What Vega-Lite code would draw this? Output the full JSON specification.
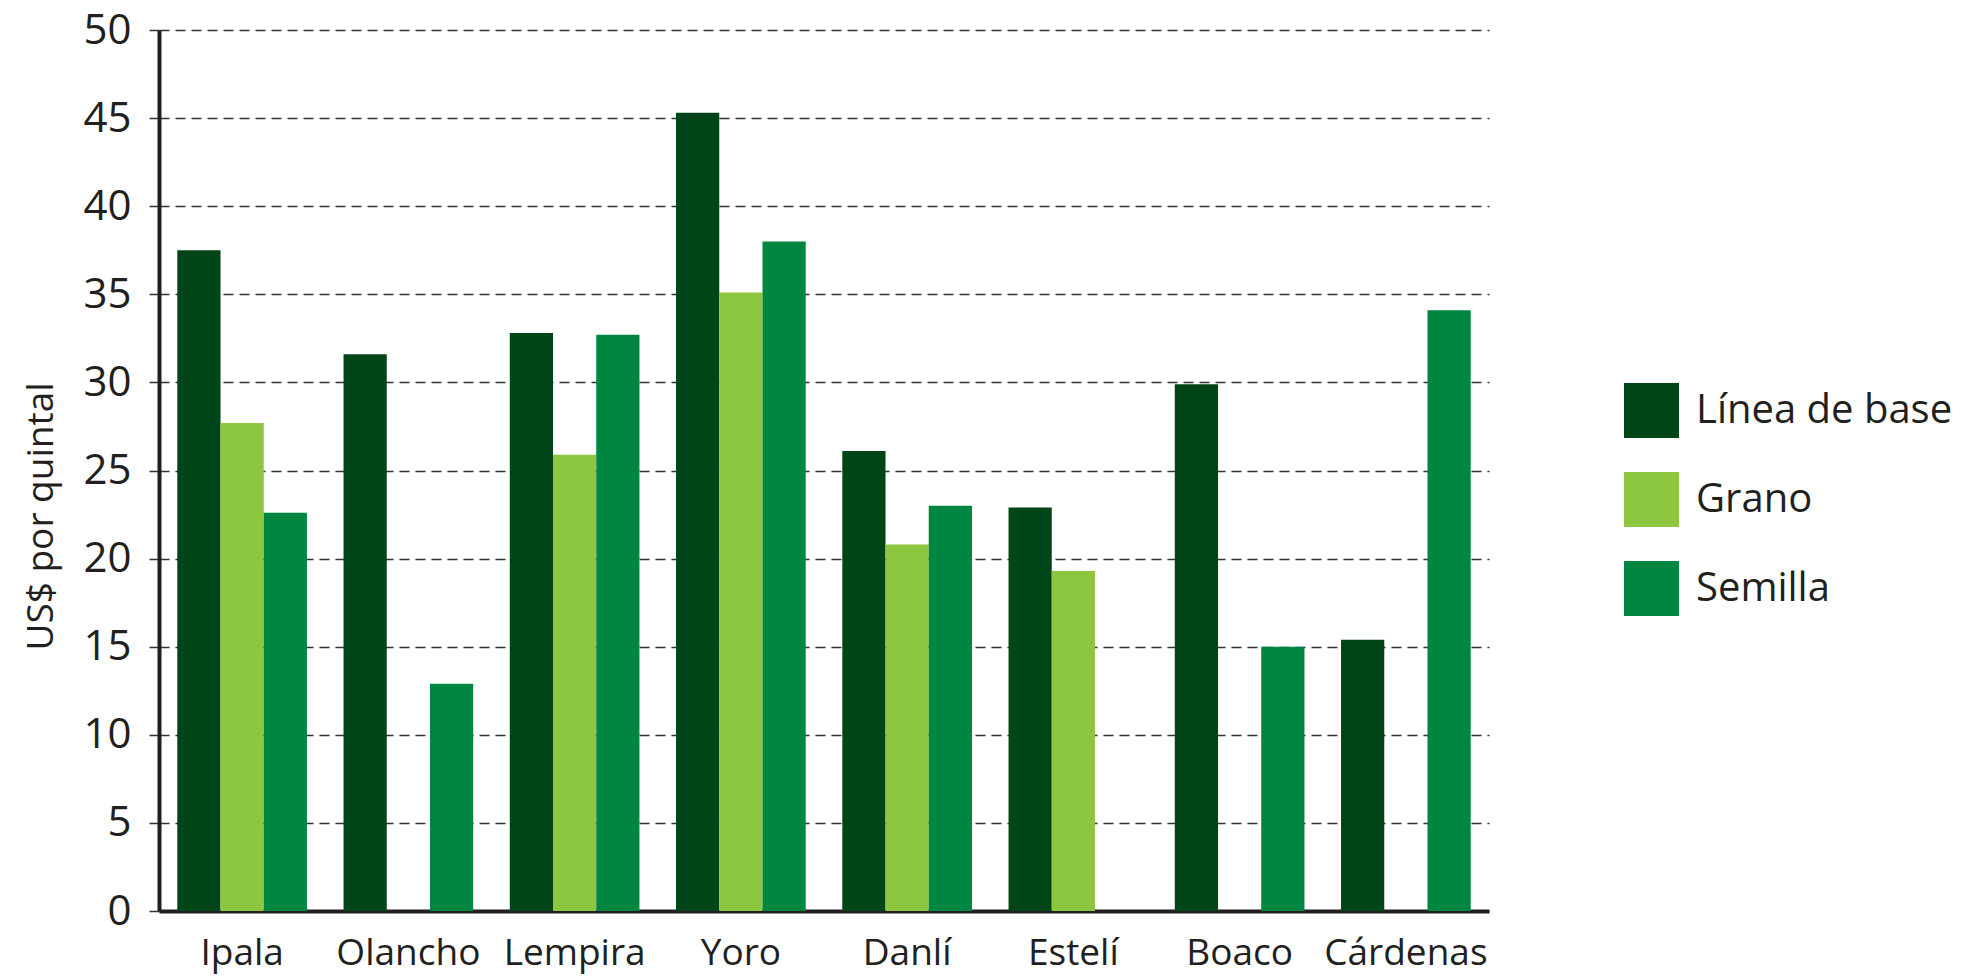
{
  "$schema": "https://vega.github.io/schema/vega-lite/v6.json",
  "autosize": "none",
  "width": 1330,
  "height": 881,
  "padding": {"left": 159, "top": 30, "right": 484, "bottom": 65},
  "background": "white",
  "config": {
    "view": {"stroke": null},
    "font": "Open Sans"
  },
  "data": {
    "values": [
      {"lugar": "Ipala", "serie": "Línea de base", "valor": 37.5},
      {"lugar": "Ipala", "serie": "Grano", "valor": 27.7},
      {"lugar": "Ipala", "serie": "Semilla", "valor": 22.6},
      {"lugar": "Olancho", "serie": "Línea de base", "valor": 31.6},
      {"lugar": "Olancho", "serie": "Semilla", "valor": 12.9},
      {"lugar": "Lempira", "serie": "Línea de base", "valor": 32.8},
      {"lugar": "Lempira", "serie": "Grano", "valor": 25.9},
      {"lugar": "Lempira", "serie": "Semilla", "valor": 32.7},
      {"lugar": "Yoro", "serie": "Línea de base", "valor": 45.3},
      {"lugar": "Yoro", "serie": "Grano", "valor": 35.1},
      {"lugar": "Yoro", "serie": "Semilla", "valor": 38.0},
      {"lugar": "Danlí", "serie": "Línea de base", "valor": 26.1},
      {"lugar": "Danlí", "serie": "Grano", "valor": 20.8},
      {"lugar": "Danlí", "serie": "Semilla", "valor": 23.0},
      {"lugar": "Estelí", "serie": "Línea de base", "valor": 22.9},
      {"lugar": "Estelí", "serie": "Grano", "valor": 19.3},
      {"lugar": "Boaco", "serie": "Línea de base", "valor": 29.9},
      {"lugar": "Boaco", "serie": "Semilla", "valor": 15.0},
      {"lugar": "Cárdenas", "serie": "Línea de base", "valor": 15.4},
      {"lugar": "Cárdenas", "serie": "Semilla", "valor": 34.1}
    ]
  },
  "mark": {"type": "bar"},
  "encoding": {
    "x": {
      "field": "lugar",
      "type": "nominal",
      "sort": ["Ipala", "Olancho", "Lempira", "Yoro", "Danlí", "Estelí", "Boaco", "Cárdenas"],
      "scale": {"paddingInner": 0.22, "paddingOuter": 0.11},
      "axis": {
        "title": null,
        "labelAngle": 0,
        "labelFontSize": 37,
        "labelColor": "#231f20",
        "labelPadding": 24,
        "ticks": false,
        "domainColor": "#231f20",
        "domainWidth": 4,
        "grid": false
      }
    },
    "xOffset": {
      "field": "serie",
      "type": "nominal",
      "sort": ["Línea de base", "Grano", "Semilla"]
    },
    "y": {
      "field": "valor",
      "type": "quantitative",
      "scale": {"domain": [0, 50], "nice": false},
      "axis": {
        "title": "US$ por quintal",
        "titleFontSize": 37,
        "titleFontWeight": "normal",
        "titleColor": "#231f20",
        "titlePadding": 22,
        "titleY": 486,
        "values": [0, 5, 10, 15, 20, 25, 30, 35, 40, 45, 50],
        "labelFontSize": 42,
        "labelColor": "#231f20",
        "labelPadding": 14,
        "tickSize": 14,
        "tickColor": "#333333",
        "tickWidth": 1.5,
        "tickDash": [10, 6],
        "domainColor": "#231f20",
        "domainWidth": 4,
        "grid": true,
        "gridColor": "#333333",
        "gridWidth": 1.5,
        "gridDash": [10, 6]
      }
    },
    "color": {
      "field": "serie",
      "type": "nominal",
      "sort": ["Línea de base", "Grano", "Semilla"],
      "scale": {
        "domain": ["Línea de base", "Grano", "Semilla"],
        "range": ["#004518", "#8dc63f", "#008641"]
      },
      "legend": {
        "title": null,
        "orient": "none",
        "legendX": 1465,
        "legendY": 353,
        "symbolType": "square",
        "symbolSize": 3025,
        "symbolStrokeWidth": 0,
        "symbolOpacity": 1,
        "labelFontSize": 40,
        "labelColor": "#231f20",
        "labelOffset": 17,
        "rowPadding": 34,
        "labelLimit": 400
      }
    }
  }
}
